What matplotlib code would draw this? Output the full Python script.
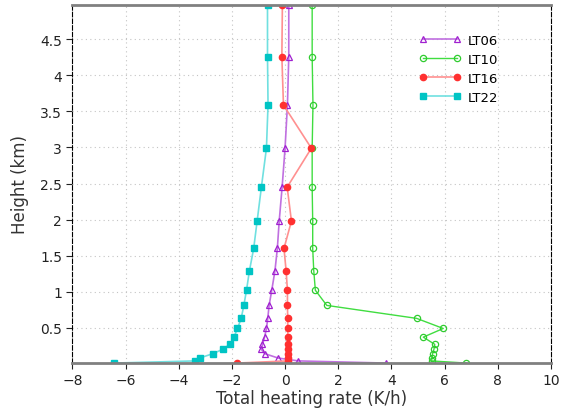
import numpy as np
import matplotlib
matplotlib.use("Agg")
import matplotlib.pyplot as plt

# model levels (km)
height = [0.01, 0.04, 0.08, 0.14, 0.20, 0.27, 0.37, 0.49, 0.63, 0.81,
          1.02, 1.29, 1.60, 1.98, 2.45, 2.99, 3.59, 4.26, 4.98]

lt06 = [3.80, 0.50, -0.26, -0.76, -0.89, -0.85, -0.77, -0.70, -0.65, -0.60,
        -0.50, -0.38, -0.29, -0.22, -0.11, 0.00, 0.09, 0.14, 0.14]
lt10 = [6.82, 5.51, 5.53, 5.55, 5.60, 5.63, 5.20, 5.95, 4.95, 1.57,
        1.14, 1.08, 1.04, 1.04, 1.02, 1.02, 1.05, 1.02, 1.02]
lt16 = [-1.80, 0.10, 0.10, 0.10, 0.10, 0.10, 0.10, 0.10, 0.10, 0.09,
        0.09, 0.04, -0.04, 0.24, 0.08, 0.99, -0.06, -0.12, -0.10]
lt22 = [-6.43, -3.40, -3.21, -2.72, -2.35, -2.08, -1.92, -1.79, -1.65, -1.55,
        -1.45, -1.34, -1.18, -1.05, -0.89, -0.70, -0.64, -0.66, -0.66]

labels = ["LT06", "LT10", "LT16", "LT22"]

fig = plt.figure(figsize=(5.61, 4.10), dpi=100)
ax = fig.add_axes([0.129, 0.112, 0.853, 0.874])

ax.plot(lt06, height, color="#c070e0", lw=1.2, marker="^", ms=4.5,
        mfc="none", mec="#a020d0", mew=0.9, label=labels[0])
ax.plot(lt10, height, color="#40dd40", lw=1.0, marker="o", ms=4.5,
        mfc="none", mec="#30cc30", mew=0.9, label=labels[1])
ax.plot(lt16, height, color="#ff9090", lw=1.2, marker="o", ms=4.5,
        mfc="#ff3030", mec="#ff3030", label=labels[2])
ax.plot(lt22, height, color="#70e0e0", lw=1.2, marker="s", ms=4.5,
        mfc="#00c4c4", mec="#00c4c4", label=labels[3])

ax.set_xlim(-8, 10)
ax.set_ylim(height[0], height[-1])
ax.set_xticks(np.arange(-8, 11, 2))
ax.set_yticks([0.5, 1, 1.5, 2, 2.5, 3, 3.5, 4, 4.5])
ax.set_yticklabels(["0.5", "1", "1.5", "2", "2.5", "3", "3.5", "4", "4.5"])
ax.tick_params(direction="out", length=4, labelsize=10, colors="#222222")

ax.grid(True, color="#c4c4c4", ls=(0, (1, 3)), lw=0.8)

for s in ("left", "right"):
    ax.spines[s].set_color("black")
    ax.spines[s].set_linestyle((0, (4, 2)))
    ax.spines[s].set_linewidth(0.8)
for s in ("top", "bottom"):
    ax.spines[s].set_color("#808080")
    ax.spines[s].set_linewidth(2)

ax.set_xlabel("Total heating rate (K/h)", fontsize=12, color="#333333", labelpad=1)
ax.set_ylabel("Height (km)", fontsize=12, color="#333333", labelpad=8)

leg = ax.legend(loc="upper left", bbox_to_anchor=(0.7, 0.952), frameon=False,
                fontsize=9.5, handlelength=3.2, markerfirst=True,
                numpoints=2, labelspacing=0.45, handletextpad=0.5)

fig.savefig("out.png", dpi=100)
